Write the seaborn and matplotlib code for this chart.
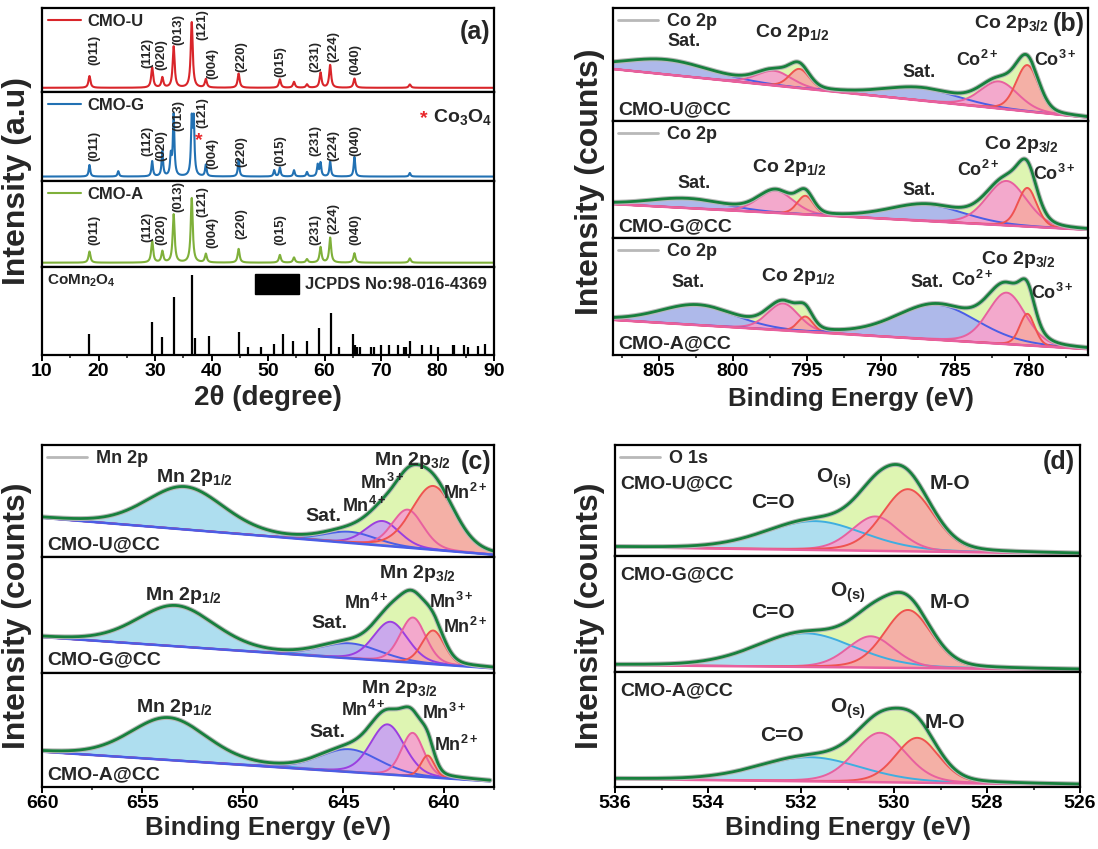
import numpy as np
import matplotlib
matplotlib.use('Agg')
import matplotlib.pyplot as plt
import seaborn as sns
from matplotlib.lines import Line2D
from matplotlib.patches import Patch

sns.set_theme(style='ticks')
plt.rcParams['font.family'] = ['Liberation Sans', 'DejaVu Sans']
plt.rcParams['font.weight'] = 'bold'
plt.rcParams['mathtext.fontset'] = 'custom'
plt.rcParams['mathtext.rm'] = 'Liberation Sans:bold'
plt.rcParams['mathtext.bf'] = 'Liberation Sans:bold'
plt.rcParams['mathtext.it'] = 'Liberation Sans:bold'
plt.rcParams['mathtext.default'] = 'rm'

# ---------------- (a) XRD data ----------------
hkl = ['(011)', '(112)', '(020)', '(013)', '(121)', '(004)', '(220)', '(015)', '(231)', '(224)', '(040)']
hkl_pos = [18.4, 29.5, 31.3, 33.3, 36.5, 39.0, 44.8, 52.1, 59.3, 61.0, 65.3]
cmo_u_int = [0.14, 0.24, 0.12, 0.49, 0.78, 0.10, 0.17, 0.10, 0.18, 0.27, 0.11]
cmo_g_int = [0.13, 0.17, 0.28, 0.69, 0.60, 0.13, 0.19, 0.10, 0.15, 0.17, 0.22]
cmo_a_int = [0.13, 0.25, 0.13, 0.56, 0.75, 0.10, 0.16, 0.09, 0.18, 0.29, 0.11]
minor_pos = [54.6, 56.9, 75.1]
cmo_u_minor = [0.07, 0.04, 0.04]
cmo_g_minor = [0.07, 0.05, 0.04]
cmo_a_minor = [0.06, 0.04, 0.05]
g_extra_pos = [23.5, 32.8, 36.85, 51.1, 58.8]   # extra reflections in CMO-G (incl. Co3O4)
g_extra_int = [0.06, 0.22, 0.60, 0.07, 0.13]

ref_pos = [18.4, 29.5, 31.3, 33.3, 36.5, 37.1, 39.5, 44.8, 46.4, 48.7, 51.1, 52.6, 54.5,
           56.9, 59.0, 61.1, 62.5, 65.1, 65.4, 65.7, 66.3, 68.3, 68.7, 70.0, 71.4, 73.0,
           74.0, 74.4, 75.1, 77.3, 78.8, 80.0, 82.8, 83.0, 84.7, 85.4, 87.2, 88.4]
ref_int = [26, 41, 23, 72, 100, 21, 24, 28, 10, 10, 14, 26, 18,
           17, 33, 52, 10, 26, 12, 10, 10, 10, 10, 12, 13, 12,
           10, 10, 17, 12, 13, 10, 13, 13, 12, 10, 11, 14]

# ---------------- (b) Co 2p fits: Sat, Co2+, Co3+, Sat, Co2+, Co3+ ----------------
co_center = {'U': [804.5, 797.2, 795.5, 787.3, 782.0, 780.1],
             'G': [803.1, 797.1, 795.1, 786.9, 781.5, 780.1],
             'A': [802.4, 796.6, 795.1, 786.2, 781.5, 780.1]}
co_height = {'U': [0.13, 0.13, 0.17, 0.11, 0.24, 0.41],
             'G': [0.08, 0.19, 0.16, 0.14, 0.38, 0.33],
             'A': [0.17, 0.23, 0.13, 0.30, 0.44, 0.27]}
co_fwhm = {'U': [7.0, 2.8, 1.6, 6.0, 3.0, 1.8],
           'G': [6.0, 2.8, 1.3, 6.0, 3.2, 1.5],
           'A': [6.0, 2.5, 1.2, 6.5, 3.0, 1.2]}
co_bg = {'U': [0.46, 0.03], 'G': [0.29, 0.07], 'A': [0.30, 0.05]}

# ---------------- (c) Mn 2p fits: 2p1/2, Sat, Mn4+, Mn3+, Mn2+ ----------------
mn_center = {'U': [652.95, 644.8, 643.2, 641.96, 640.7],
             'G': [653.4, 644.8, 642.8, 641.7, 640.7],
             'A': [653.7, 644.7, 642.8, 641.55, 640.8]}
mn_height = {'U': [0.38, 0.10, 0.22, 0.34, 0.57],
             'G': [0.35, 0.13, 0.34, 0.39, 0.29],
             'A': [0.37, 0.20, 0.44, 0.38, 0.19]}
mn_fwhm = {'U': [4.5, 3.0, 2.0, 1.8, 2.5],
           'G': [4.5, 3.5, 2.0, 1.5, 1.3],
           'A': [4.5, 3.5, 2.0, 1.3, 0.8]}
mn_bg = {'U': [0.35, 0.02], 'G': [0.31, 0.04], 'A': [0.31, 0.05]}

# ---------------- (d) O 1s fits: C=O, O(s), M-O ----------------
o_center = {'U': [531.7, 530.4, 529.7], 'G': [531.9, 530.5, 529.7], 'A': [531.8, 530.3, 529.5]}
o_height = {'U': [0.26, 0.31, 0.56], 'G': [0.29, 0.27, 0.50], 'A': [0.21, 0.43, 0.39]}
o_fwhm = {'U': [2.5, 1.2, 1.3], 'G': [2.5, 1.2, 1.2], 'A': [2.6, 1.3, 1.1]}
o_bg = {'U': [0.08, 0.02], 'G': [0.06, 0.02], 'A': [0.07, 0.02]}

samples = ['U', 'G', 'A']

# colours
GREEN_FILL, GREEN_LINE, RAW = '#def5b2', '#17803d', '#b8b8b8'
SAT_F, SAT_E = '#aab4f0', '#4b5ee6'
PINK_F, PINK_E = '#f5a3cf', '#e8609f'
SALM_F, SALM_E = '#f6aaa5', '#ef5350'
CYAN_F, CYAN_E = '#aadcf5', '#3faee0'
PURP_F, PURP_E = '#c9a3f2', '#9b3fe0'

W, H = 1098, 849
fig = plt.figure(figsize=(W / 100, H / 100), dpi=100)


def px_axes(l, r, t, b):
    return fig.add_axes([l / W, 1 - b / H, (r - l) / W, (b - t) / H])


def pvoigt(x, c, h, w, eta=0.2):
    s = w / 2.3548
    g = np.exp(-0.5 * ((x - c) / s) ** 2)
    lz = 1 / (1 + ((x - c) / (w / 2)) ** 2)
    return h * ((1 - eta) * g + eta * lz)


def style(ax, xlim, ylim, bottom, major, minor):
    ax.set_xlim(*xlim)
    ax.set_ylim(*ylim)
    ax.set_yticks([])
    ax.set_xlabel('')
    ax.set_ylabel('')
    for s in ax.spines.values():
        s.set_linewidth(1.6)
        s.set_color('black')
    if bottom:
        ax.set_xticks(major)
        ax.set_xticks(minor, minor=True)
        ax.tick_params(axis='x', which='major', direction='out', length=4, width=1.4,
                       labelsize=14, pad=2, colors='black')
        ax.tick_params(axis='x', which='minor', direction='out', length=2.5, width=1.2)
    else:
        ax.set_xticks([])
        ax.set_xticks([], minor=True)


# ======================= (a) =======================
a_rows = [8, 92, 181, 267, 355]
A_L, A_R = 42, 494
two_theta = np.linspace(10, 90, 4000)


def xrd_curve(pos, inten, fwhm):
    y = np.full_like(two_theta, 0.05)
    for p, i in zip(pos, inten):
        y += i / (1 + ((two_theta - p) / (fwhm / 2)) ** 2)
    return y


xrd_colors = {'U': '#d9252a', 'G': '#2271b3', 'A': '#7fb03a'}
xrd_int = {'U': cmo_u_int, 'G': cmo_g_int, 'A': cmo_a_int}
xrd_minor = {'U': cmo_u_minor, 'G': cmo_g_minor, 'A': cmo_a_minor}
label_x = [19.3, 28.7, 31.2, 34.2, 38.3, 40.2, 45.2, 52.2, 58.4, 61.6, 65.4]
label_y = {'U': [0.32, 0.28, 0.26, 0.56, 0.62, 0.16, 0.24, 0.18, 0.24, 0.36, 0.20],
           'G': [0.22, 0.28, 0.22, 0.56, 0.60, 0.13, 0.16, 0.17, 0.28, 0.22, 0.28],
           'A': [0.26, 0.29, 0.26, 0.64, 0.58, 0.22, 0.32, 0.26, 0.26, 0.38, 0.26]}

for k, s in enumerate(samples):
    ax = px_axes(A_L, A_R, a_rows[k], a_rows[k + 1])
    pos = hkl_pos + minor_pos
    inten = xrd_int[s] + xrd_minor[s]
    if s == 'G':
        pos = pos + g_extra_pos
        inten = inten + g_extra_int
    y = xrd_curve(pos, inten, 0.42 if s != 'G' else 0.32)
    sns.lineplot(x=two_theta, y=y, ax=ax, color=xrd_colors[s], lw=1.5)
    for lab, lx, ly in zip(hkl, label_x, label_y[s]):
        ax.text(lx, ly, lab, rotation=90, ha='center', va='bottom', fontsize=9.5)
    ax.legend(handles=[Line2D([], [], color=xrd_colors[s], lw=1.5)], labels=['CMO-' + s],
              loc='upper left', frameon=False, fontsize=12, handlelength=2.0,
              handletextpad=0.4, borderaxespad=0.15, borderpad=0.2)
    if s == 'U':
        ax.text(0.993, 0.72, '(a)', transform=ax.transAxes, ha='right', va='center', fontsize=18)
    if s == 'G':
        ax.text(37.7, 0.45, '*', color='#e8262a', ha='center', va='center', fontsize=14)
        ax.text(0.845, 0.70, '*', color='#e8262a', transform=ax.transAxes, ha='center',
                va='center', fontsize=14)
        ax.text(0.865, 0.72, 'Co$_3$O$_4$', transform=ax.transAxes, ha='left', va='center',
                fontsize=14)
    style(ax, (10, 90), (0, 1), False, [], [])

ax = px_axes(A_L, A_R, a_rows[3], a_rows[4])
ax.vlines(ref_pos, 0, ref_int, color='black', lw=1.6)
ax.text(0.012, 0.84, 'CoMn$_2$O$_4$', transform=ax.transAxes, ha='left', va='center', fontsize=11)
ax.legend(handles=[Patch(facecolor='black', edgecolor='black')], labels=['JCPDS No:98-016-4369'],
          loc='upper right', frameon=False, fontsize=12, handlelength=2.6, handleheight=1.5,
          handletextpad=0.4, borderaxespad=0.2, borderpad=0.2)
style(ax, (10, 90), (0, 109.5), True, np.arange(10, 91, 10), np.arange(15, 90, 10))
fig.text((A_L + A_R) / 2 / W, 1 - 398 / H, '2\u03b8 (degree)', ha='center', va='center', fontsize=20)
fig.text(17 / W, 1 - 181 / H, 'Intensity (a.u)', rotation=90, ha='center', va='center', fontsize=23)


# ======================= XPS helper =======================
def xps_panel(ax, xlim, bg_ends, centers, heights, fwhms, fills, edges, bg_color):
    x = np.linspace(xlim[0], xlim[1], 900)
    bg = np.linspace(bg_ends[0], bg_ends[1], len(x))
    comps = [pvoigt(x, c, h, w) for c, h, w in zip(centers, heights, fwhms)]
    env = bg + np.sum(comps, axis=0)
    ax.fill_between(x, bg, env, color=GREEN_FILL, lw=0)
    for comp, fc, ec in zip(comps, fills, edges):
        ax.fill_between(x, bg, bg + comp, color=fc, lw=0, alpha=0.92)
        sns.lineplot(x=x, y=bg + comp, ax=ax, color=ec, lw=1.4)
    sns.lineplot(x=x, y=bg, ax=ax, color=bg_color, lw=1.8)
    sns.lineplot(x=x, y=env, ax=ax, color=RAW, lw=3.5)
    sns.lineplot(x=x, y=env, ax=ax, color=GREEN_LINE, lw=2)


def put(ax, items):
    for txt, xx, yy, fs in items:
        ax.text(xx, yy, txt, ha='center', va='center', fontsize=fs)


# ======================= (b) Co 2p =======================
b_rows = [8, 121, 238, 355]
B_L, B_R = 613, 1088
b_xlim = (808.1, 776.0)
co_fills = [SAT_F, PINK_F, SALM_F, SAT_F, PINK_F, SALM_F]
co_edges = [SAT_E, PINK_E, SALM_E, SAT_E, PINK_E, SALM_E]
co_text = {
    'U': [('Sat.', 803.3, 0.70, 13), ('Co 2p$_{1/2}$', 796.0, 0.78, 14), ('Sat.', 787.4, 0.43, 13),
          ('Co$^{2+}$', 783.5, 0.54, 13), ('Co 2p$_{3/2}$', 781.2, 0.86, 14), ('Co$^{3+}$', 778.2, 0.54, 13)],
    'G': [('Sat.', 802.6, 0.47, 13), ('Co 2p$_{1/2}$', 796.2, 0.60, 14), ('Sat.', 787.4, 0.41, 13),
          ('Co$^{2+}$', 783.4, 0.58, 13), ('Co 2p$_{3/2}$', 780.5, 0.80, 14), ('Co$^{3+}$', 778.3, 0.55, 13)],
    'A': [('Sat.', 803.0, 0.62, 13), ('Co 2p$_{1/2}$', 795.6, 0.67, 14), ('Sat.', 786.9, 0.62, 13),
          ('Co$^{2+}$', 783.8, 0.64, 13), ('Co 2p$_{3/2}$', 780.7, 0.82, 14), ('Co$^{3+}$', 778.4, 0.53, 13)]}
for k, s in enumerate(samples):
    ax = px_axes(B_L, B_R, b_rows[k], b_rows[k + 1])
    xps_panel(ax, b_xlim, co_bg[s], co_center[s], co_height[s], co_fwhm[s], co_fills, co_edges, PINK_E)
    put(ax, co_text[s])
    ax.text(0.012, 0.10, 'CMO-%s@CC' % s, transform=ax.transAxes, ha='left', va='center', fontsize=14)
    ax.legend(handles=[Line2D([], [], color=RAW, lw=2)], labels=['Co 2p'], loc='upper left',
              frameon=False, fontsize=13, handlelength=2.2, handletextpad=0.5,
              borderaxespad=0.1, borderpad=0.2)
    if s == 'U':
        ax.text(0.993, 0.86, '(b)', transform=ax.transAxes, ha='right', va='center', fontsize=18)
    last = k == 2
    style(ax, b_xlim, (0, 1), last, np.arange(805, 776, -5), np.arange(807.5, 776, -5))
fig.text((B_L + B_R) / 2 / W, 1 - 399 / H, 'Binding Energy (eV)', ha='center', va='center', fontsize=18.5)
fig.text(590 / W, 1 - 182 / H, 'Intensity (counts)', rotation=90, ha='center', va='center', fontsize=23)

# ======================= (c) Mn 2p =======================
c_rows = [445, 557, 673, 787]
C_L, C_R = 42, 494
c_xlim = (660, 637.7)
mn_fills = [CYAN_F, SAT_F, PURP_F, PINK_F, SALM_F]
mn_edges = [CYAN_E, SAT_E, PURP_E, PINK_E, SALM_E]
mn_text = {
    'U': [('Mn 2p$_{1/2}$', 652.5, 0.71, 14), ('Sat.', 646.1, 0.36, 14), ('Mn$^{4+}$', 644.1, 0.46, 13),
          ('Mn$^{3+}$', 643.2, 0.66, 13), ('Mn 2p$_{3/2}$', 641.7, 0.86, 14), ('Mn$^{2+}$', 639.1, 0.57, 13)],
    'G': [('Mn 2p$_{1/2}$', 653.0, 0.67, 14), ('Sat.', 645.8, 0.43, 14), ('Mn$^{4+}$', 644.0, 0.60, 13),
          ('Mn 2p$_{3/2}$', 641.5, 0.86, 14), ('Mn$^{3+}$', 639.8, 0.61, 13), ('Mn$^{2+}$', 639.1, 0.40, 13)],
    'A': [('Mn 2p$_{1/2}$', 653.4, 0.70, 14), ('Sat.', 645.8, 0.48, 14), ('Mn$^{4+}$', 644.0, 0.68, 13),
          ('Mn 2p$_{3/2}$', 642.2, 0.86, 14), ('Mn$^{3+}$', 640.0, 0.65, 13), ('Mn$^{2+}$', 639.4, 0.37, 13)]}
for k, s in enumerate(samples):
    ax = px_axes(C_L, C_R, c_rows[k], c_rows[k + 1])
    xps_panel(ax, c_xlim, mn_bg[s], mn_center[s], mn_height[s], mn_fwhm[s], mn_fills, mn_edges, SAT_E)
    put(ax, mn_text[s])
    ax.text(0.012, 0.11, 'CMO-%s@CC' % s, transform=ax.transAxes, ha='left', va='center', fontsize=14)
    if s == 'U':
        ax.legend(handles=[Line2D([], [], color=RAW, lw=2)], labels=['Mn 2p'], loc='upper left',
                  frameon=False, fontsize=13, handlelength=2.2, handletextpad=0.5,
                  borderaxespad=0.1, borderpad=0.2)
        ax.text(0.995, 0.85, '(c)', transform=ax.transAxes, ha='right', va='center', fontsize=18)
    last = k == 2
    style(ax, c_xlim, (0, 1), last, np.arange(660, 637, -5), np.arange(657.5, 637, -5))
fig.text((C_L + C_R) / 2 / W, 1 - 828 / H, 'Binding Energy (eV)', ha='center', va='center', fontsize=18.5)
fig.text(17 / W, 1 - 616 / H, 'Intensity (counts)', rotation=90, ha='center', va='center', fontsize=23)

# ======================= (d) O 1s =======================
d_rows = [445, 556, 672, 787]
D_L, D_R = 615, 1080
d_xlim = (536, 526)
o_fills = [CYAN_F, PINK_F, SALM_F]
o_edges = [CYAN_E, PINK_E, SALM_E]
o_text = {
    'U': [('C=O', 532.6, 0.48, 15), ('O$_{(s)}$', 531.3, 0.70, 15), ('M-O', 528.8, 0.65, 15)],
    'G': [('C=O', 532.6, 0.51, 15), ('O$_{(s)}$', 531.0, 0.68, 15), ('M-O', 528.8, 0.60, 15)],
    'A': [('C=O', 532.4, 0.45, 15), ('O$_{(s)}$', 531.0, 0.68, 15), ('M-O', 528.9, 0.56, 15)]}
o_name_y = {'U': 0.65, 'G': 0.84, 'A': 0.84}
for k, s in enumerate(samples):
    ax = px_axes(D_L, D_R, d_rows[k], d_rows[k + 1])
    xps_panel(ax, d_xlim, o_bg[s], o_center[s], o_height[s], o_fwhm[s], o_fills, o_edges, PINK_E)
    put(ax, o_text[s])
    ax.text(0.012, o_name_y[s], 'CMO-%s@CC' % s, transform=ax.transAxes, ha='left', va='center', fontsize=14)
    if s == 'U':
        ax.legend(handles=[Line2D([], [], color=RAW, lw=2)], labels=['O 1s'], loc='upper left',
                  frameon=False, fontsize=13, handlelength=2.2, handletextpad=0.5,
                  borderaxespad=0.1, borderpad=0.2)
        ax.text(0.99, 0.85, '(d)', transform=ax.transAxes, ha='right', va='center', fontsize=18)
    last = k == 2
    style(ax, d_xlim, (0, 1), last, np.arange(536, 525, -2), np.arange(535, 525, -2))
fig.text((D_L + D_R) / 2 / W, 1 - 828 / H, 'Binding Energy (eV)', ha='center', va='center', fontsize=18.5)
fig.text(590 / W, 1 - 616 / H, 'Intensity (counts)', rotation=90, ha='center', va='center', fontsize=23)

fig.savefig('out.png', dpi=100, facecolor='white')
